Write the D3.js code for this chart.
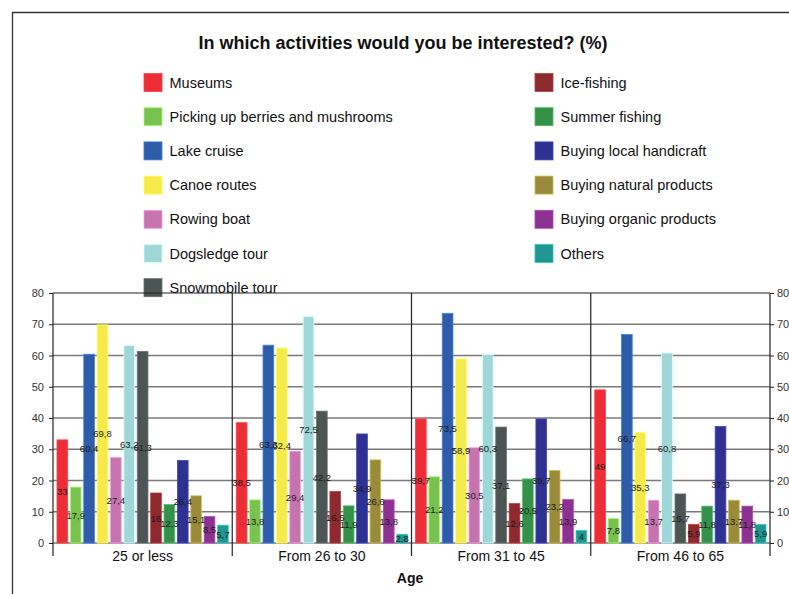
<!DOCTYPE html>
<html>
<head>
<meta charset="utf-8">
<script src="https://cdn.jsdelivr.net/npm/d3@7/dist/d3.min.js"></script>
<style>
  html, body { margin: 0; padding: 0; background: #fff; }
  svg { display: block; font-family: "Liberation Sans", Arial, sans-serif; }
</style>
</head>
<body>
<svg id="chart" width="789" height="594"></svg>
<script>
// Age groups on the x axis
const ageGroups = ["25 or less", "From 26 to 30", "From 31 to 45", "From 46 to 65"];

// Activities (one bar per activity in every age group)
const activities = [
  "Museums", "Picking up berries and mushrooms", "Lake cruise", "Canoe routes",
  "Rowing boat", "Dogsledge tour", "Snowmobile tour", "Ice-fishing",
  "Summer fishing", "Buying local handicraft", "Buying natural products",
  "Buying organic products", "Others"
];

const activityColors = [
  "#ee2e36", "#79c24f", "#2e5ca9", "#f5ea4a", "#c574ae", "#9fd6d8", "#4c5553",
  "#8c2a30", "#35904a", "#2e3190", "#9a8b3b", "#8b318f", "#1f9690"
];

// Share of respondents (%) per activity, one array per age group
const age25OrLess = [33, 17.9, 60.4, 69.8, 27.4, 63.2, 61.3, 16, 12.3, 26.4, 15.1, 8.5, 5.7];
const age26to30   = [38.5, 13.8, 63.3, 62.4, 29.4, 72.5, 42.2, 16.5, 11.9, 34.9, 26.6, 13.8, 2.8];
const age31to45   = [39.7, 21.2, 73.5, 58.9, 30.5, 60.3, 37.1, 12.6, 20.5, 39.7, 23.2, 13.9, 4];
const age46to65   = [49, 7.8, 66.7, 35.3, 13.7, 60.8, 15.7, 5.9, 11.8, 37.3, 13.7, 11.8, 5.9];

const yTicks = [0, 10, 20, 30, 40, 50, 60, 70, 80];

const seriesByGroup = [age25OrLess, age26to30, age31to45, age46to65];

const svg = d3.select("#chart");
const fmt = v => String(v).replace(".", ",");

// outer frame (open to the right and bottom)
svg.append("path")
  .attr("d", "M12.5,600 V12.5 H800")
  .attr("fill", "none").attr("stroke", "#333").attr("stroke-width", 1.3);

// title
svg.append("text")
  .attr("x", 403).attr("y", 49)
  .attr("text-anchor", "middle")
  .attr("font-size", 18).attr("font-weight", "bold").attr("fill", "#111")
  .text("In which activities would you be interested? (%)");

// legend: first seven items on the left, the rest on the right
const legend = svg.append("g");
activities.forEach((name, i) => {
  const col = i < 7 ? 0 : 1;
  const row = i < 7 ? i : i - 7;
  const lx = col === 0 ? 144 : 535;
  const cy = 82.5 + row * 34.2;
  const g = legend.append("g");
  g.append("rect")
    .attr("x", lx).attr("y", cy - 9).attr("width", 18).attr("height", 18)
    .attr("fill", activityColors[i])
    .attr("stroke", d3.color(activityColors[i]).brighter(0.8)).attr("stroke-width", 0.8);
  g.append("text")
    .attr("x", lx + 25.5).attr("y", cy + 5)
    .attr("font-size", 14.5).attr("fill", "#111")
    .text(name);
});

// plot area
const plotLeft = 53, plotRight = 770, plotTop = 293, plotBottom = 543;

const x = d3.scaleBand().domain(ageGroups).range([plotLeft, plotRight]).paddingInner(0).paddingOuter(0);
const xInner = d3.scaleBand().domain(d3.range(activities.length))
  .range([4, x.bandwidth() - 4]).paddingInner(0.2).paddingOuter(0);
const y = d3.scaleLinear().domain([0, 80]).range([plotBottom, plotTop]);

// horizontal grid lines
svg.append("g").selectAll("line")
  .data(yTicks.filter(t => t < 80))
  .join("line")
  .attr("x1", plotLeft).attr("x2", plotRight)
  .attr("y1", d => y(d)).attr("y2", d => y(d))
  .attr("stroke", "#7a7a7a").attr("stroke-width", 1.5);

svg.append("line")
  .attr("x1", plotLeft).attr("x2", plotRight).attr("y1", y(80)).attr("y2", y(80))
  .attr("stroke", "#222").attr("stroke-width", 1.2);

// bars
const groups = svg.append("g").selectAll("g")
  .data(ageGroups)
  .join("g")
  .attr("transform", d => `translate(${x(d)},0)`);

groups.each(function (grp, gi) {
  const vals = seriesByGroup[gi];
  const g = d3.select(this);
  g.selectAll("rect")
    .data(vals)
    .join("rect")
    .attr("x", (d, i) => xInner(i))
    .attr("y", d => y(d))
    .attr("width", xInner.bandwidth())
    .attr("height", d => y(0) - y(d))
    .attr("fill", (d, i) => activityColors[i])
    .attr("stroke", (d, i) => d3.color(activityColors[i]).brighter(0.9))
    .attr("stroke-width", 0.8);
  g.selectAll("text")
    .data(vals)
    .join("text")
    .attr("x", (d, i) => xInner(i) + xInner.bandwidth() / 2)
    .attr("y", d => (y(d) + y(0)) / 2 + 3.5)
    .attr("text-anchor", "middle")
    .attr("font-size", 9.5).attr("fill", "#1a1a1a")
    .text(d => fmt(d));
});

// vertical axis lines and category separators
const sepX = ageGroups.map(d => x(d)).concat([plotRight]);
svg.append("g").selectAll("line")
  .data(sepX)
  .join("line")
  .attr("x1", d => d).attr("x2", d => d)
  .attr("y1", plotTop).attr("y2", 556)
  .attr("stroke", "#222").attr("stroke-width", 1.2);

// left axis
const leftAxis = svg.append("g")
  .attr("transform", `translate(${plotLeft},0)`)
  .call(d3.axisLeft(y).tickValues(yTicks).tickSize(4).tickPadding(5).tickFormat(d3.format("d")));
leftAxis.select(".domain").remove();
leftAxis.selectAll("line").attr("stroke", "#222");
leftAxis.selectAll("text").attr("font-size", 11).attr("fill", "#333")
  .attr("font-family", "Liberation Sans, Arial, sans-serif");

// right axis
const rightAxis = svg.append("g")
  .attr("transform", `translate(${plotRight},0)`)
  .call(d3.axisRight(y).tickValues(yTicks).tickSize(4).tickPadding(3).tickFormat(d3.format("d")));
rightAxis.select(".domain").remove();
rightAxis.selectAll("line").attr("stroke", "#222");
rightAxis.selectAll("text").attr("font-size", 11).attr("fill", "#333")
  .attr("font-family", "Liberation Sans, Arial, sans-serif");

// category labels
svg.append("g").selectAll("text")
  .data(ageGroups)
  .join("text")
  .attr("x", d => x(d) + x.bandwidth() / 2)
  .attr("y", 561)
  .attr("text-anchor", "middle")
  .attr("font-size", 14).attr("fill", "#111")
  .text(d => d);

// x axis title
svg.append("text")
  .attr("x", 410).attr("y", 583)
  .attr("text-anchor", "middle")
  .attr("font-size", 14).attr("font-weight", "bold").attr("fill", "#111")
  .text("Age");
</script>
</body>
</html>
